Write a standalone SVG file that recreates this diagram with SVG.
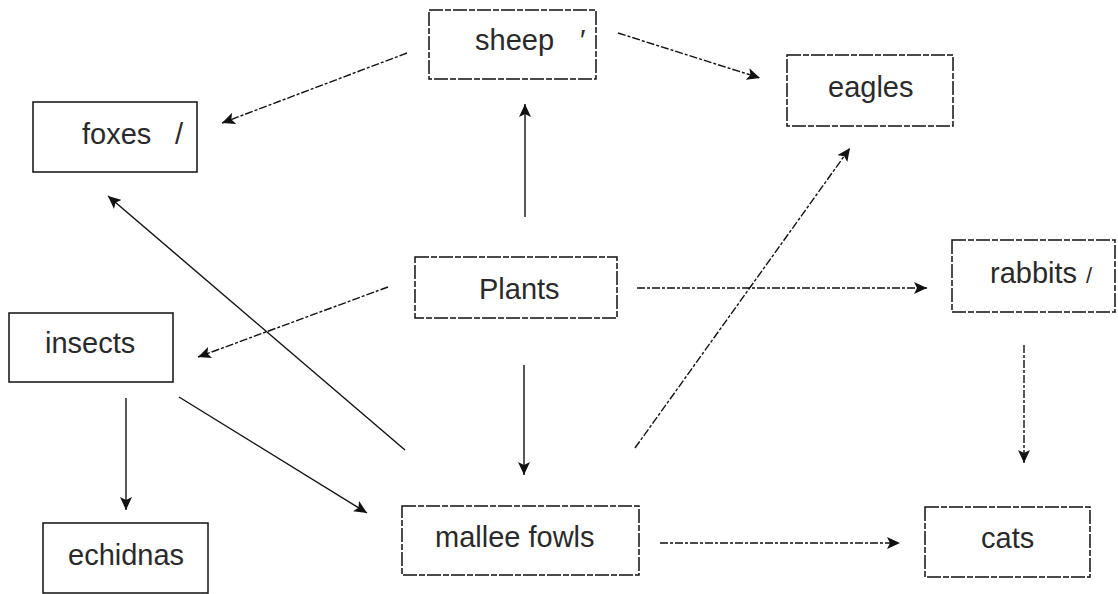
<svg xmlns="http://www.w3.org/2000/svg" width="1118" height="594" viewBox="0 0 1118 594">
<style>
.box{fill:#fff;stroke:#111;stroke-width:1.5}
.faded{stroke-dasharray:14 2 6 2}
.lbl{font-family:"Liberation Sans",Arial,sans-serif;font-size:29px;fill:#2a2a2a}
.ln{fill:none;stroke:#111;stroke-width:1.4}
.dash{stroke-dasharray:8 2 3 2}
</style>
<defs>
<marker id="ah" markerUnits="userSpaceOnUse" markerWidth="14" markerHeight="12" refX="13" refY="6" orient="auto">
<path d="M0,0 L13,6 L0,12 L3,6 z" fill="#111"/>
</marker>
</defs>
<rect width="1118" height="594" fill="#fff"/>
<g id="connectors">
<line class="ln dash" x1="407" y1="53" x2="222" y2="123" marker-end="url(#ah)"/>
<line class="ln dash" x1="618" y1="33" x2="760" y2="78" marker-end="url(#ah)"/>
<line class="ln" x1="525" y1="217" x2="525" y2="104" marker-end="url(#ah)"/>
<line class="ln dash" x1="388" y1="287" x2="198" y2="357" marker-end="url(#ah)"/>
<line class="ln dash" x1="637" y1="288" x2="927" y2="288" marker-end="url(#ah)"/>
<line class="ln" x1="524" y1="365" x2="524" y2="475" marker-end="url(#ah)"/>
<line class="ln dash" x1="635" y1="448" x2="850" y2="148" marker-end="url(#ah)"/>
<line class="ln" x1="405" y1="450" x2="108" y2="196" marker-end="url(#ah)"/>
<line class="ln" x1="179" y1="397" x2="367" y2="513" marker-end="url(#ah)"/>
<line class="ln" x1="126" y1="398" x2="126" y2="510" marker-end="url(#ah)"/>
<line class="ln dash" x1="660" y1="543" x2="900" y2="543" marker-end="url(#ah)"/>
<line class="ln dash" x1="1024" y1="345" x2="1024" y2="463" marker-end="url(#ah)"/>
</g>
<g id="foxes">
<rect class="box" x="33" y="102" width="164" height="70"/>
<text class="lbl" x="82" y="144">foxes<tspan x="175">/</tspan></text>
</g>
<g id="sheep">
<rect class="box faded" x="429" y="10" width="167" height="69"/>
<text class="lbl" x="475" y="50">sheep<tspan x="580">′</tspan></text>
</g>
<g id="eagles">
<rect class="box faded" x="787" y="55" width="166" height="71"/>
<text class="lbl" x="828" y="97">eagles</text>
</g>
<g id="plants">
<rect class="box faded" x="415" y="257" width="202" height="61"/>
<text class="lbl" x="479" y="299">Plants</text>
</g>
<g id="rabbits">
<rect class="box faded" x="952" y="240" width="163" height="72"/>
<text class="lbl" x="990" y="283">rabbits<tspan x="1086" font-size="22">/</tspan></text>
</g>
<g id="insects">
<rect class="box" x="9" y="313" width="164" height="69"/>
<text class="lbl" x="45" y="353">insects</text>
</g>
<g id="echidnas">
<rect class="box" x="43" y="523" width="165" height="70"/>
<text class="lbl" x="68" y="565">echidnas</text>
</g>
<g id="mallee-fowls">
<rect class="box faded" x="402" y="506" width="237" height="69"/>
<text class="lbl" x="435" y="547">mallee fowls</text>
</g>
<g id="cats">
<rect class="box faded" x="925" y="507" width="165" height="70"/>
<text class="lbl" x="981" y="548">cats</text>
</g>
</svg>
